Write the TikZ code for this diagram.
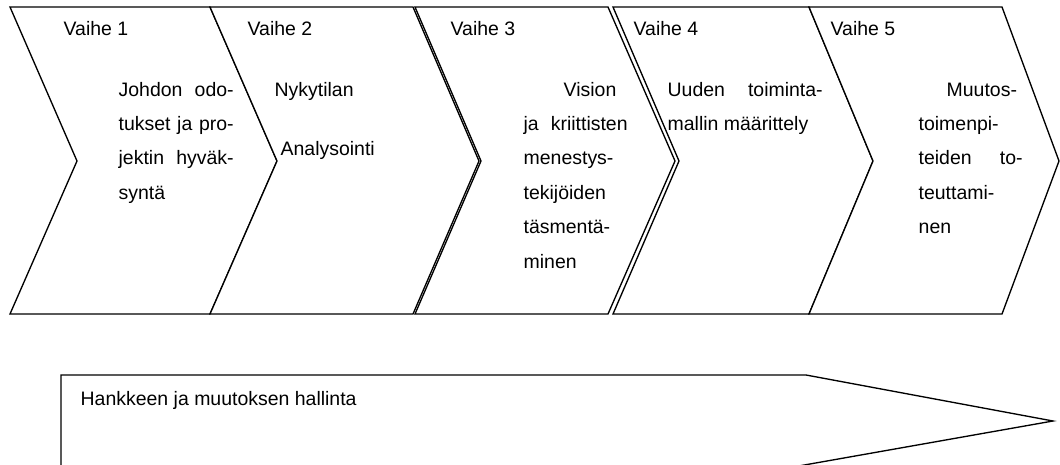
\documentclass[tikz,border=0pt]{standalone}
\usepackage{fontspec}
\setmainfont{Liberation Sans}
\begin{document}
\begin{tikzpicture}[x=0.75pt,y=-0.75pt, line width=1pt, line join=miter,
  phase/.style={draw=black, fill=white},
  lbl/.style={anchor=base west, inner sep=0pt, font=\fontsize{14.6pt}{17pt}\selectfont}]
\useasboundingbox (0,0) rectangle (1060,464);
\clip (0,0) rectangle (1060,464);

% five phase chevrons
\draw[phase] (10,7) -- (210,7) -- (277,161) -- (210,314) -- (10,314) -- (77,161) -- cycle;
\draw[phase] (210,7) -- (413,7) -- (479,161) -- (413,314) -- (210,314) -- (277,161) -- cycle;
\draw[phase] (415,7) -- (608,7) -- (675,161) -- (608,314) -- (415,314) -- (481,161) -- cycle;
\draw[phase] (613,7) -- (809,7) -- (873,161) -- (809,314) -- (613,314) -- (679,161) -- cycle;
\draw[phase] (809,7) -- (1002,7) -- (1059,161) -- (1002,314) -- (809,314) -- (873,161) -- cycle;

% project management arrow
\draw[phase] (61,375) -- (806,375) -- (1053,421) -- (793,467) -- (61,467) -- cycle;

% phase titles
\node[lbl] (v1) at (63,35) {Vaihe 1};
\node[lbl] (v2) at (247,35) {Vaihe 2};
\node[lbl] (v3) at (450,35) {Vaihe 3};
\node[lbl] (v4) at (633,35) {Vaihe 4};
\node[lbl] (v5) at (830,35) {Vaihe 5};

% phase 1
\node[lbl] (p1a) at (118,96)    {\makebox[86.25pt][s]{Johdon odo-}};
\node[lbl] (p1b) at (118,130.4) {\makebox[86.25pt][s]{tukset ja pro-}};
\node[lbl] (p1c) at (118,164.8) {\makebox[86.25pt][s]{jektin hyväk-}};
\node[lbl] (p1d) at (118,199.2) {syntä};

% phase 2
\node[lbl] (p2a) at (274,96)  {Nykytilan};
\node[lbl] (p2b) at (280,155) {Analysointi};

% phase 3
\node[lbl] (p3a) at (563,96)    {Vision};
\node[lbl] (p3b) at (523,130.4) {\makebox[78pt][s]{ja kriittisten}};
\node[lbl] (p3c) at (523,164.8) {menestys-};
\node[lbl] (p3d) at (523,199.2) {tekijöiden};
\node[lbl] (p3e) at (523,233.6) {täsmentä-};
\node[lbl] (p3f) at (523,268)   {minen};

% phase 4
\node[lbl] (p4a) at (667,96)    {\makebox[116.25pt][s]{Uuden toiminta-}};
\node[lbl] (p4b) at (667,130.4) {mallin määrittely};

% phase 5
\node[lbl] (p5a) at (946,96)    {Muutos-};
\node[lbl] (p5b) at (918,130.4) {toimenpi-};
\node[lbl] (p5c) at (918,164.8) {\makebox[78pt][s]{teiden to-}};
\node[lbl] (p5d) at (918,199.2) {teuttami-};
\node[lbl] (p5e) at (918,233.6) {nen};

% management label
\node[lbl] (mgmt) at (80,405) {Hankkeen ja muutoksen hallinta};
\end{tikzpicture}
\end{document}
